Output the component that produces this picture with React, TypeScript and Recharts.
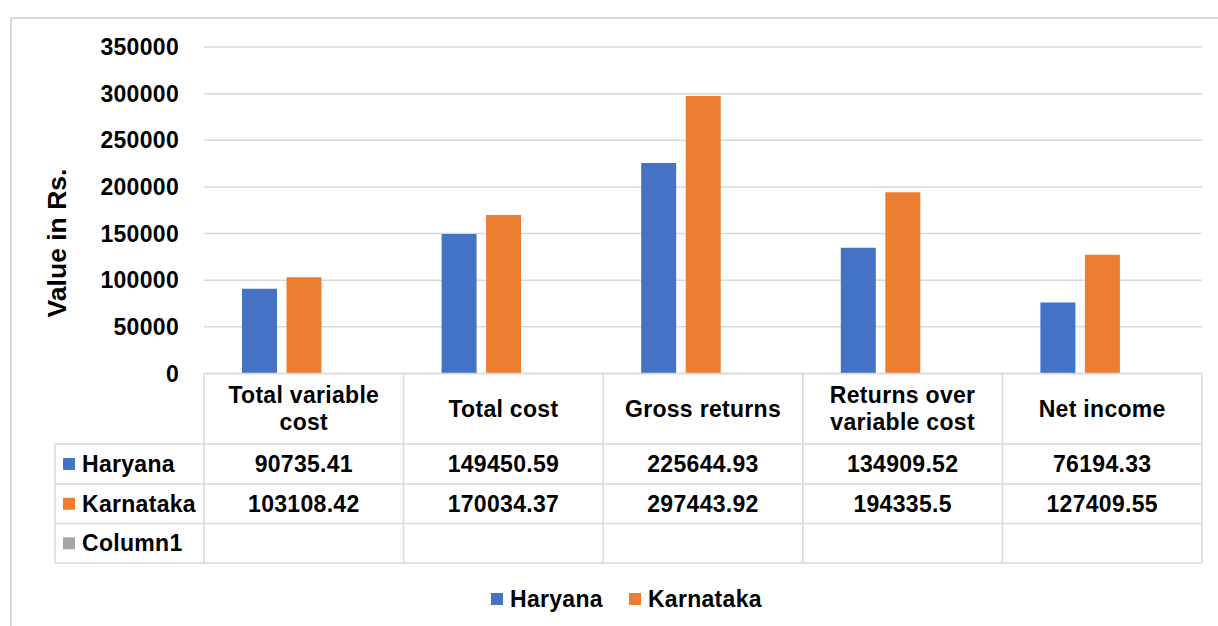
import { BarChart, Bar, XAxis, YAxis, CartesianGrid, Legend, Label } from "recharts";

const categories = [
  "Total variable cost",
  "Total cost",
  "Gross returns",
  "Returns over variable cost",
  "Net income",
];
const haryana = [90735.41, 149450.59, 225644.93, 134909.52, 76194.33];
const karnataka = [103108.42, 170034.37, 297443.92, 194335.5, 127409.55];
const column1: (number | null)[] = [null, null, null, null, null];
const yTicks = [0, 50000, 100000, 150000, 200000, 250000, 300000, 350000];

const series = [
  { key: "Haryana", values: haryana, color: "#4472C4", legend: true },
  { key: "Karnataka", values: karnataka, color: "#ED7D31", legend: true },
  { key: "Column1", values: column1, color: "#A5A5A5", legend: false },
];

const data = categories.map((c, i) => {
  const row: Record<string, string | number | null> = { category: c };
  series.forEach((s) => (row[s.key] = s.values[i]));
  return row;
});

const W = 1218;
const H = 626;
const LEFT = 204;
const RIGHT = 16;
const PLOT_W = W - LEFT - RIGHT;
const FONT = "'Liberation Sans', Arial, sans-serif";
const GRID = "#d9d9d9";

// table rows below the plot, measured from the axis line
const HEADER_H = 70.5;
const ROW_H = [40, 39.5, 39.5];
const TABLE_LEFT = 55;

const txt = {
  fontFamily: FONT,
  fontWeight: 700,
  fontSize: 23,
  letterSpacing: 0.3,
  fill: "#000",
};

function wrap(label: string, max = 14) {
  const lines: string[] = [];
  let cur = "";
  label.split(" ").forEach((w) => {
    const next = cur ? cur + " " + w : w;
    if (next.length > max && cur) {
      lines.push(cur);
      cur = w;
    } else cur = next;
  });
  if (cur) lines.push(cur);
  return lines;
}

function TableColumn(props: any) {
  const { x, y, index, payload } = props;
  const bw = PLOT_W / categories.length;
  const x0 = x - bw / 2;
  const x1 = x + bw / 2;
  const rowTops = [y + HEADER_H];
  ROW_H.forEach((h, i) => rowTops.push(rowTops[i] + h));
  const bottom = rowTops[rowTops.length - 1];
  const lines = wrap(String(payload.value));
  const headMid = y + HEADER_H / 2;

  return (
    <g>
      {index === 0 && <line x1={x0} x2={x0} y1={y} y2={bottom} stroke={GRID} strokeWidth={1.5} />}
      <line x1={x1} x2={x1} y1={y} y2={bottom} stroke={GRID} strokeWidth={1.5} />
      {rowTops.map((ry, i) => (
        <line
          key={i}
          x1={index === 0 ? TABLE_LEFT : x0}
          x2={x1}
          y1={ry}
          y2={ry}
          stroke={GRID}
          strokeWidth={1.5}
        />
      ))}
      {lines.map((l, i) => (
        <text
          key={i}
          x={x}
          y={headMid + (i - (lines.length - 1) / 2) * 27}
          textAnchor="middle"
          dominantBaseline="central"
          {...txt}
        >
          {l}
        </text>
      ))}
      {series.map((s, i) => {
        const v = s.values[index];
        const mid = rowTops[i] + ROW_H[i] / 2;
        return (
          <g key={s.key}>
            {v != null && (
              <text x={x} y={mid} textAnchor="middle" dominantBaseline="central" {...txt}>
                {String(v)}
              </text>
            )}
            {index === 0 && (
              <>
                <rect x={TABLE_LEFT + 8} y={mid - 6} width={12} height={12} fill={s.color} />
                <text x={TABLE_LEFT + 27} y={mid} dominantBaseline="central" {...txt}>
                  {s.key}
                </text>
              </>
            )}
          </g>
        );
      })}
      {index === 0 && (
        <line x1={TABLE_LEFT} x2={TABLE_LEFT} y1={rowTops[0]} y2={bottom} stroke={GRID} strokeWidth={1.5} />
      )}
    </g>
  );
}

function AxisTitle() {
  return (
    <text
      x={57}
      y={243}
      transform="rotate(-90, 57, 243)"
      textAnchor="middle"
      dominantBaseline="central"
      fontFamily={FONT}
      fontWeight={700}
      fontSize={26.5}
      fill="#000"
    >
      Value in Rs.
    </text>
  );
}

function LegendContent() {
  return (
    <div
      style={{
        display: "flex",
        alignItems: "center",
        height: 40,
        paddingLeft: 491,
        fontFamily: FONT,
        fontWeight: 700,
        fontSize: 23,
        letterSpacing: 0.3,
        color: "#000",
      }}
    >
      {series
        .filter((s) => s.legend)
        .map((s) => (
          <span key={s.key} style={{ display: "flex", alignItems: "center", marginRight: 26 }}>
            <span style={{ width: 12, height: 12, background: s.color, marginRight: 7 }} />
            {s.key}
          </span>
        ))}
    </div>
  );
}

export default function App() {
  return (
    <div style={{ position: "relative", width: W, height: H, overflow: "hidden", background: "#fff" }}>
      <style>{"body{margin:0;overflow:hidden}"}</style>
      <div
        style={{
          position: "absolute",
          left: 10,
          top: 17,
          width: W + 40,
          height: H + 40,
          border: `2px solid ${GRID}`,
        }}
      />
      <div style={{ position: "absolute", left: 0, top: 0 }}>
        <BarChart
          width={W}
          height={H}
          data={data}
          margin={{ top: 47, right: RIGHT, bottom: 7, left: 0 }}
          barSize={35}
          barGap={9.5}
        >
          <CartesianGrid vertical={false} stroke={GRID} strokeWidth={1.5} />
          <XAxis
            dataKey="category"
            interval={0}
            height={205.5}
            tickLine={false}
            tickSize={0}
            tickMargin={0}
            axisLine={{ stroke: GRID, strokeWidth: 1.5 }}
            tick={TableColumn}
          />
          <YAxis
            width={LEFT}
            domain={[0, 350000]}
            ticks={yTicks}
            interval={0}
            axisLine={false}
            tickLine={false}
            tickSize={0}
            tickMargin={25}
            tick={{ ...txt }}
            label={<Label content={AxisTitle} />}
          />
          <Legend verticalAlign="bottom" content={LegendContent} />
          {series.map((s) => (
            <Bar
              key={s.key}
              dataKey={s.key}
              fill={s.color}
              legendType={s.legend ? "square" : "none"}
              isAnimationActive={false}
            />
          ))}
        </BarChart>
      </div>
    </div>
  );
}
